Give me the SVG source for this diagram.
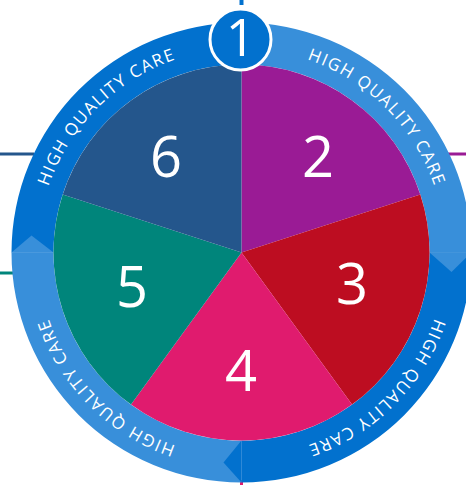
<svg xmlns="http://www.w3.org/2000/svg" width="466" height="485" viewBox="0 0 466 485">
<style>
.num{font-family:"Open Sans","Liberation Sans",sans-serif;font-size:56px;fill:#fff;text-anchor:middle}
.ring{font-family:"Open Sans","Liberation Sans",sans-serif;font-size:17px;fill:#fff;letter-spacing:1.5px;text-anchor:middle}
.dark{fill:#0271CE}.light{fill:#388FDA}
</style>
<defs>
<path id="tp" d="M241.5,48.5 A204,204 0 0 1 241.5,456.5 A204,204 0 0 1 241.5,48.5"/>
</defs>
<g id="connectors" stroke-width="3" fill="none">
<line x1="241.5" y1="0" x2="241.5" y2="5" stroke="#0271CE" stroke-width="4"/>
<line x1="0" y1="154" x2="34" y2="154" stroke="#24568C"/>
<line x1="446" y1="154" x2="466" y2="154" stroke="#9A1B95"/>
<line x1="0" y1="273" x2="14" y2="273" stroke="#00857B"/>
<line x1="241.5" y1="480" x2="241.5" y2="485" stroke="#E01B6E"/>
</g>
<g id="ring">
<path class="dark" d="M11.5,252.5 A230,230 0 0 1 241.5,22.5 L241.5,64.5 A188,188 0 0 0 53.5,252.5 Z"/>
<path class="light" d="M241.5,22.5 A230,230 0 0 1 471.5,252.5 L429.5,252.5 A188,188 0 0 0 241.5,64.5 Z"/>
<path class="dark" d="M471.5,252.5 A230,230 0 0 1 241.5,482.5 L241.5,440.5 A188,188 0 0 0 429.5,252.5 Z"/>
<path class="light" d="M241.5,482.5 A230,230 0 0 1 11.5,252.5 L53.5,252.5 A188,188 0 0 0 241.5,440.5 Z"/>
<path class="light" d="M429.5,252.5 L471.5,252.5 L451.5,272 Z"/>
<path class="dark" d="M241.5,440.5 L241.5,482.5 L223.5,462.5 Z"/>
<path class="light" d="M53.5,252.5 L11.5,252.5 L31.5,235.5 Z"/>
<text class="ring"><textPath href="#tp" startOffset="1121.6">HIGH QUALITY CARE</textPath></text>
<text class="ring"><textPath href="#tp" startOffset="160.2">HIGH QUALITY CARE</textPath></text>
<text class="ring"><textPath href="#tp" startOffset="480.7">HIGH QUALITY CARE</textPath></text>
<text class="ring"><textPath href="#tp" startOffset="801.1">HIGH QUALITY CARE</textPath></text>
</g>
<g id="node2"><path fill="#9A1B95" d="M241.5,252.5 L241.5,64.5 A188,188 0 0 1 420.3,194.4 Z"/><text class="num" x="318" y="177">2</text></g>
<g id="node3"><path fill="#BD0D21" d="M241.5,252.5 L420.3,194.4 A188,188 0 0 1 352,404.6 Z"/><text class="num" x="352" y="304">3</text></g>
<g id="node4"><path fill="#E01B6E" d="M241.5,252.5 L352,404.6 A188,188 0 0 1 131,404.6 Z"/><text class="num" x="241" y="391">4</text></g>
<g id="node5"><path fill="#00857B" d="M241.5,252.5 L131,404.6 A188,188 0 0 1 62.7,194.4 Z"/><text class="num" x="132" y="307">5</text></g>
<g id="node6"><path fill="#24568C" d="M241.5,252.5 L62.7,194.4 A188,188 0 0 1 241.5,64.5 Z"/><text class="num" x="166" y="177">6</text></g>
<g id="node1"><circle cx="240.5" cy="39.5" r="30.5" fill="#0271CE" stroke="#fff" stroke-width="3"/><text class="num" x="240.5" y="56" style="font-size:52px">1</text></g>
</svg>
